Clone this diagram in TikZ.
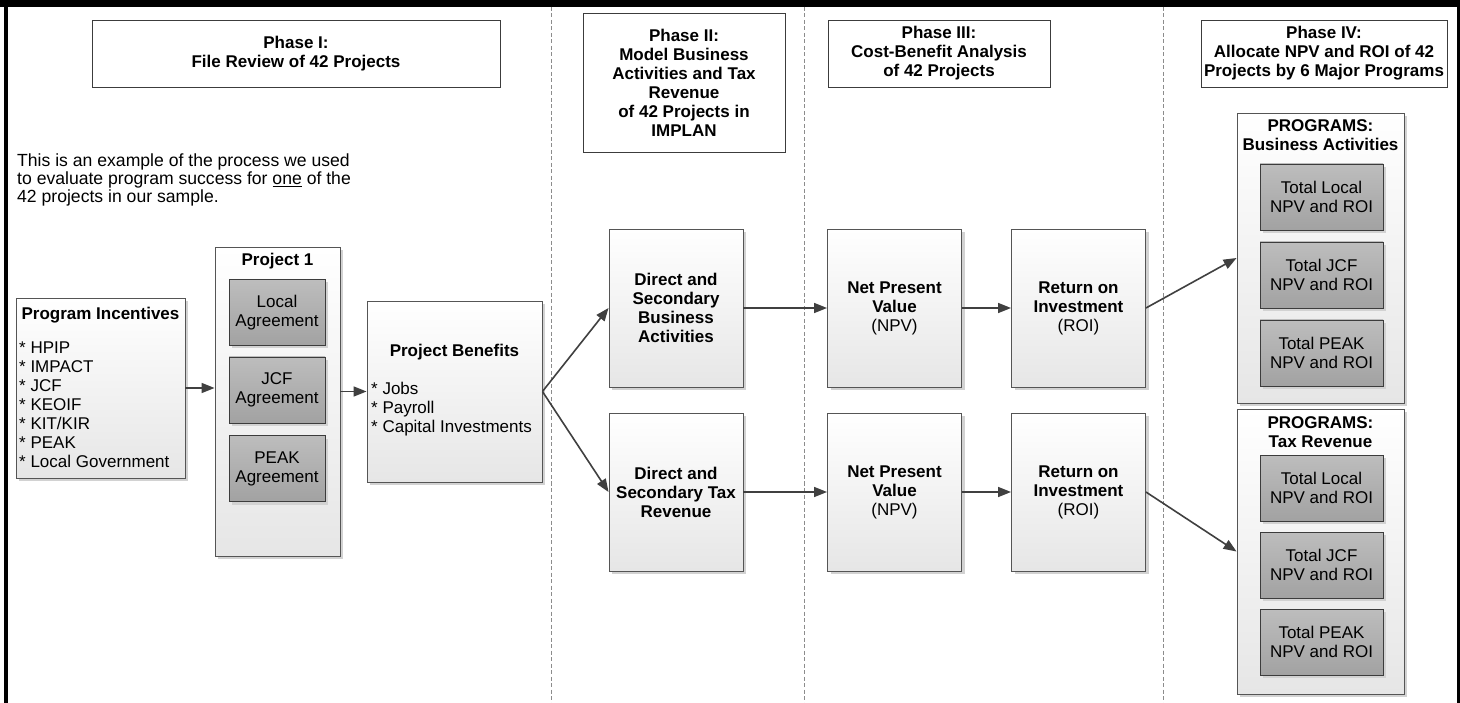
\documentclass[tikz,border=0pt]{standalone}
\usepackage{fontspec}
\setmainfont{Liberation Sans}
\usetikzlibrary{shadows,arrows.meta,calc}
\definecolor{edge}{HTML}{555555}
\definecolor{darkedge}{HTML}{3C3C3C}
\definecolor{arrowc}{HTML}{404040}
\definecolor{dashc}{HTML}{8C8C8C}
\definecolor{darktop}{HTML}{BDBDBD}
\definecolor{darkbot}{HTML}{A2A2A2}
\definecolor{lightbot}{HTML}{E6E6E6}
\definecolor{shadowc}{HTML}{D2D2D2}
\begin{document}
\begin{tikzpicture}[x=1pt,y=-1pt,
  base/.style={font=\fontsize{17}{19}\selectfont, inner sep=0pt, align=center},
  boldtext/.style={base, font=\bfseries\fontsize{17}{19}\selectfont},
  phasebox/.style={draw=darkedge, fill=white, line width=0.9pt, inner sep=0pt, align=center,
    font=\bfseries\fontsize{17}{19}\selectfont},
  lightbox/.style={draw=edge, line width=0.9pt, top color=white, bottom color=lightbot,
    drop shadow={shadow xshift=3pt, shadow yshift=-3pt, fill=shadowc, opacity=1},
    inner sep=0pt, align=center, font=\fontsize{17}{19}\selectfont},
  darkbox/.style={draw=darkedge, line width=0.9pt, top color=darktop, bottom color=darkbot,
    drop shadow={shadow xshift=3pt, shadow yshift=-3pt, fill=shadowc, opacity=1},
    inner sep=0pt, align=center, font=\fontsize{17}{19}\selectfont,
    minimum width=96pt, minimum height=66pt},
  progbox/.style={darkbox, minimum width=123pt, minimum height=66pt},
  midbox/.style={lightbox, minimum width=134pt, minimum height=158pt},
  arr/.style={draw=arrowc, line width=1.6pt, -{Triangle[length=13pt,width=10pt]}},
  dashline/.style={draw=dashc, line width=0.9pt, dash pattern=on 4pt off 2.5pt}
]
\useasboundingbox (0,0) rectangle (1460,703);
\fill[white] (0,0) rectangle (1460,703);
\fill[black] (0,0) rectangle (1460,7);
\fill[black] (4,0) rectangle (8,703);
\fill[black] (1457,0) rectangle (1460,703);

% phase separators
\coordinate (s1t) at (551,7);  \coordinate (s1b) at (551,703);
\coordinate (s2t) at (804,7);  \coordinate (s2b) at (804,703);
\coordinate (s3t) at (1163,7); \coordinate (s3b) at (1163,703);
\draw[dashline] (s1t) -- (s1b);
\draw[dashline] (s2t) -- (s2b);
\draw[dashline] (s3t) -- (s3b);

% phase headers
\node[phasebox, minimum width=408pt, minimum height=67pt] (ph1) at (296,53.5) {Phase I:\\File Review of 42 Projects};
\node[phasebox, minimum width=202pt, minimum height=139pt] (ph2) at (684,82.5) {Phase II:\\Model Business\\Activities and Tax\\Revenue\\of 42 Projects in\\IMPLAN};
\node[phasebox, minimum width=222pt, minimum height=67pt] (ph3) at (939,53.5) {Phase III:\\Cost-Benefit Analysis\\of 42 Projects};
\node[phasebox, minimum width=246pt, minimum height=67pt] (ph4) at (1324,53.5) {Phase IV:\\Allocate NPV and ROI of 42\\Projects by 6 Major Programs};

% intro text
\node[base, align=left, anchor=west, font=\fontsize{17.6}{18}\selectfont] (intro) at (17,180)
  {This is an example of the process we used\\to evaluate program success for \underline{one} of the\\42 projects in our sample.};

% program incentives
\node[lightbox, minimum width=169pt, minimum height=180pt] (pi) at (100.5,388) {};
\node[boldtext] (pit) at (100.5,315) {Program Incentives};
\node[base, align=left, anchor=west] (pil) at (19,405) {* HPIP\\* IMPACT\\* JCF\\* KEOIF\\* KIT/KIR\\* PEAK\\* Local Government};

% project 1
\node[lightbox, minimum width=125pt, minimum height=309pt] (p1) at (277.5,401.5) {};
\node[boldtext] (p1t) at (277.5,261) {Project 1};
\node[darkbox] (ag1) at (277,312.5) {Local\\Agreement};
\node[darkbox] (ag2) at (277,390) {JCF\\Agreement};
\node[darkbox] (ag3) at (277,468.5) {PEAK\\Agreement};

% project benefits
\node[lightbox, minimum width=175pt, minimum height=181pt] (pb) at (454.5,391.5) {};
\node[boldtext] (pbt) at (454.5,352) {Project Benefits};
\node[base, align=left, anchor=west] (pbl) at (371,409) {* Jobs\\* Payroll\\* Capital Investments};

% phase II / III boxes
\node[midbox, font=\bfseries\fontsize{17}{19}\selectfont] (db) at (676,308) {Direct and\\Secondary\\Business\\Activities};
\node[midbox, font=\bfseries\fontsize{17}{19}\selectfont] (dt) at (676,492) {Direct and\\Secondary Tax\\Revenue};
\node[midbox] (npv1) at (894.5,308) {\textbf{Net Present}\\\textbf{Value}\\(NPV)};
\node[midbox] (npv2) at (894.5,492) {\textbf{Net Present}\\\textbf{Value}\\(NPV)};
\node[midbox] (roi1) at (1078.5,308) {\textbf{Return on}\\\textbf{Investment}\\(ROI)};
\node[midbox] (roi2) at (1078.5,492) {\textbf{Return on}\\\textbf{Investment}\\(ROI)};

% programs: business activities
\node[lightbox, minimum width=167pt, minimum height=290pt] (pba) at (1320.5,258) {};
\node[boldtext] (pbat) at (1320.5,135) {PROGRAMS:\\Business Activities};
\node[progbox] (ba1) at (1321.5,197) {Total Local\\NPV and ROI};
\node[progbox] (ba2) at (1321.5,275) {Total JCF\\NPV and ROI};
\node[progbox] (ba3) at (1321.5,353) {Total PEAK\\NPV and ROI};

% programs: tax revenue
\node[lightbox, minimum width=167pt, minimum height=285pt] (ptx) at (1320.5,551.5) {};
\node[boldtext] (ptxt) at (1320.5,432.5) {PROGRAMS:\\Tax Revenue};
\node[progbox] (tx1) at (1321.5,488) {Total Local\\NPV and ROI};
\node[progbox] (tx2) at (1321.5,565) {Total JCF\\NPV and ROI};
\node[progbox] (tx3) at (1321.5,642) {Total PEAK\\NPV and ROI};

% connectors
\draw[arr] (pi.east) -- (pi.east -| p1.west);
\draw[arr] (pb.west -| p1.east) -- (pb.west);
\draw[arr] (pb.east) -- (db.west);
\draw[arr] (pb.east) -- (dt.west);
\draw[arr] (db.east) -- (npv1.west);
\draw[arr] (npv1.east) -- (roi1.west);
\draw[arr] (dt.east) -- (npv2.west);
\draw[arr] (npv2.east) -- (roi2.west);
\draw[arr] (roi1.east) -- (pba.west);
\draw[arr] (roi2.east) -- (ptx.west);
\end{tikzpicture}
\end{document}
